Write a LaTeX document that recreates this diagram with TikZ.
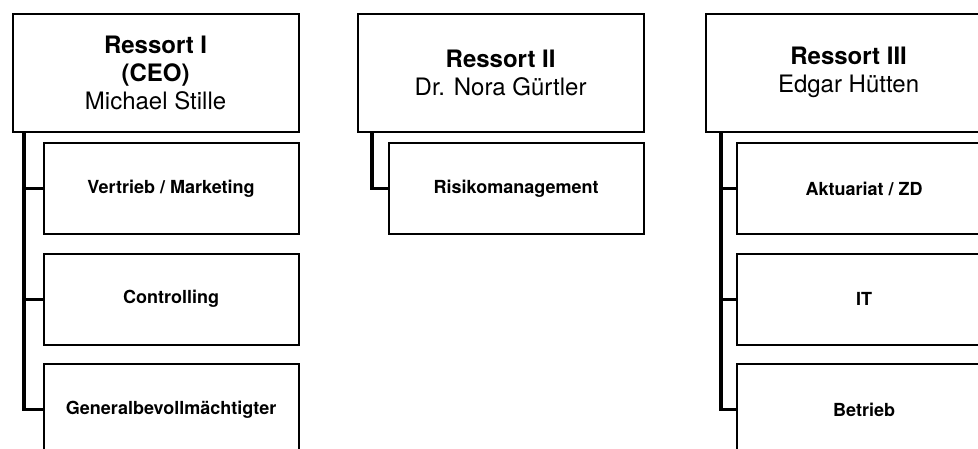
\documentclass[tikz,border=0pt]{standalone}
\usepackage{fontspec}
\setmainfont{TeX Gyre Heros}
\usetikzlibrary{positioning}
\tikzset{
 ressort/.style={draw, line width=2pt, minimum width=286pt, minimum height=118pt,
  anchor=north west, align=center, inner sep=0pt, font=\fontsize{24}{28}\selectfont},
 abteilung/.style={draw, line width=2pt, minimum width=255pt, minimum height=91pt,
  align=center, inner sep=0pt, font=\fontsize{18}{22}\selectfont\bfseries},
 linie/.style={line width=3.2pt, line join=miter}
}
\begin{document}
\begin{tikzpicture}[x=1pt,y=-1pt]
 \useasboundingbox (0,0) rectangle (978,448);
 \clip (0,0) rectangle (978,448);
 % Ressorts
 \node[ressort] (r1) at (11.6,12.6) {{\bfseries Ressort I}\\{\bfseries (CEO)}\\Michael Stille};
 \node[ressort] (r2) at (356.6,12.6) {{\bfseries Ressort II}\\Dr. Nora Gürtler};
 \node[ressort] (r3) at (704.6,12.6) {{\bfseries Ressort III}\\Edgar Hütten};
 % Abteilungen
 \node[abteilung, below left=9.5pt and 0pt of r1.south east] (vm) {Vertrieb / Marketing};
 \node[abteilung, below=17.5pt of vm] (co) {Controlling};
 \node[abteilung, below=17.5pt of co] (gb) {Generalbevollmächtigter};
 \node[abteilung, below left=9.5pt and 0pt of r2.south east] (rm) {Risikomanagement};
 \node[abteilung, below left=9.5pt and 0pt of r3.south east] (ak) {Aktuariat / ZD};
 \node[abteilung, below=17.5pt of ak] (it) {IT};
 \node[abteilung, below=17.5pt of it] (be) {Betrieb};
 % Linien
 \draw[linie] ([xshift=12.4pt]r1.south west) |- (vm.west);
 \draw[linie] ([xshift=12.4pt]r1.south west) |- (co.west);
 \draw[linie] ([xshift=12.4pt]r1.south west) |- (gb.west);
 \draw[linie] ([xshift=15.4pt]r2.south west) |- (rm.west);
 \draw[linie] ([xshift=16.4pt]r3.south west) |- (ak.west);
 \draw[linie] ([xshift=16.4pt]r3.south west) |- (it.west);
 \draw[linie] ([xshift=16.4pt]r3.south west) |- (be.west);
\end{tikzpicture}
\end{document}
